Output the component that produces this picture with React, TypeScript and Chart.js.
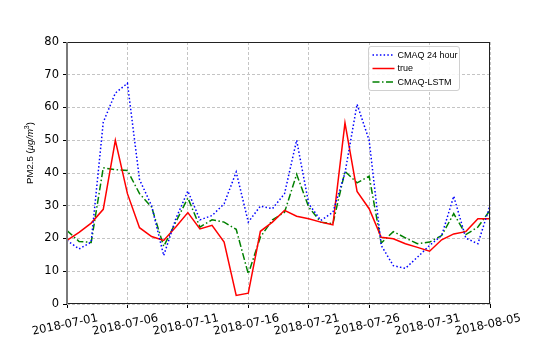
import React, { useEffect, useRef } from 'react';
import { Chart, registerables } from 'chart.js';

Chart.register(...registerables);

const dates = [
  '2018-07-01', '2018-07-02', '2018-07-03', '2018-07-04', '2018-07-05', '2018-07-06',
  '2018-07-07', '2018-07-08', '2018-07-09', '2018-07-10', '2018-07-11', '2018-07-12',
  '2018-07-13', '2018-07-14', '2018-07-15', '2018-07-16', '2018-07-17', '2018-07-18',
  '2018-07-19', '2018-07-20', '2018-07-21', '2018-07-22', '2018-07-23', '2018-07-24',
  '2018-07-25', '2018-07-26', '2018-07-27', '2018-07-28', '2018-07-29', '2018-07-30',
  '2018-07-31', '2018-08-01', '2018-08-02', '2018-08-03', '2018-08-04', '2018-08-05',
];

const xTickLabels = ['2018-07-01', '2018-07-06', '2018-07-11', '2018-07-16', '2018-07-21', '2018-07-26', '2018-07-31', '2018-08-05'];

const cmaq24 = [
  19.4, 16.8, 18.9, 55.5, 64.4, 67.4, 38.0, 30.0, 14.8, 26.0, 34.5, 25.7,
  27.0, 30.6, 40.3, 25.0, 29.9, 29.1, 33.7, 50.0, 30.6, 25.5, 28.0, 40.0,
  61.0, 50.0, 17.9, 11.7, 10.9, 14.3, 17.9, 20.9, 32.9, 20.1, 18.4, 30.1,
];

const truth = [
  19.4, 21.9, 24.7, 28.9, 50.0, 33.7, 23.3, 20.6, 19.4, 23.5, 27.9, 22.9,
  24.0, 18.9, 2.6, 3.3, 22.2, 25.0, 28.6, 26.8, 26.0, 25.0, 24.2, 55.3,
  34.4, 29.1, 20.4, 19.9, 18.4, 17.3, 16.1, 19.6, 21.4, 22.1, 26.0, 26.0,
];

const cmaqLstm = [
  22.4, 19.1, 18.8, 41.6, 41.0, 40.8, 33.7, 29.6, 17.6, 25.0, 32.4, 23.5,
  25.7, 25.0, 22.8, 9.2, 20.4, 25.7, 28.0, 39.6, 29.6, 25.0, 24.5, 40.5,
  37.0, 39.0, 18.6, 22.1, 20.2, 18.4, 18.9, 20.9, 27.6, 21.2, 23.5, 28.6,
];

const seriesNames = ['CMAQ 24 hour', 'true', 'CMAQ-LSTM'];
const yMin = 0;
const yMax = 80;
const yStep = 10;

const BLUE = '#0000ff';
const RED = '#ff0000';
const GREEN = '#008000';
const BLUE_DASH = [1.5, 2.2];
const GREEN_DASH = [7, 2.5, 1.5, 2.5];
const GRID = '#c4c4c4';

export default function App() {
  const ref = useRef<HTMLCanvasElement>(null);

  useEffect(() => {
    const canvas = ref.current;
    if (!canvas) return;

    const decorPlugin = {
      id: 'decor',
      afterDatasetsDraw(chart: any) {
        const ctx = chart.ctx as CanvasRenderingContext2D;
        const { left, right, top, bottom } = chart.chartArea;
        const xs = chart.scales.x;

        // frame (spines)
        ctx.save();
        ctx.setLineDash([]);
        ctx.strokeStyle = '#222';
        ctx.lineWidth = 1;
        ctx.beginPath();
        ctx.moveTo(left, top + 0.5);
        ctx.lineTo(right, top + 0.5);
        ctx.moveTo(right - 0.5, top);
        ctx.lineTo(right - 0.5, bottom);
        ctx.moveTo(left, bottom - 0.5);
        ctx.lineTo(right, bottom - 0.5);
        ctx.stroke();
        ctx.strokeStyle = '#7a7a7a';
        ctx.lineWidth = 2;
        ctx.beginPath();
        ctx.moveTo(left, top);
        ctx.lineTo(left, bottom);
        ctx.stroke();
        ctx.restore();

        // x tick labels (rotated, centred on the tick)
        ctx.save();
        ctx.fillStyle = '#000';
        ctx.font = '11.5px "DejaVu Sans"';
        ctx.textAlign = 'center';
        ctx.textBaseline = 'middle';
        xTickLabels.forEach((lab) => {
          const idx = dates.indexOf(lab);
          const px = xs.getPixelForValue(idx);
          ctx.save();
          ctx.translate(px - 2, bottom + 21);
          ctx.rotate((-12 * Math.PI) / 180);
          ctx.fillText(lab, 0, 0);
          ctx.restore();
        });
        ctx.restore();

        // y axis title: PM2.5 (μg/m³)
        ctx.save();
        ctx.translate(29, 153);
        ctx.rotate(-Math.PI / 2);
        ctx.fillStyle = '#000';
        ctx.textBaseline = 'alphabetic';
        ctx.textAlign = 'left';
        const parts = [
          { t: 'PM2.5 (', f: '9.6px "Liberation Sans"', dy: 0 },
          { t: 'μg/m', f: 'italic 9.6px "Liberation Sans"', dy: 0 },
          { t: '3', f: '7px "Liberation Sans"', dy: -4 },
          { t: ')', f: '9.6px "Liberation Sans"', dy: 0 },
        ];
        let total = 0;
        parts.forEach((p) => {
          ctx.font = p.f;
          total += ctx.measureText(p.t).width;
        });
        let cx = -total / 2;
        parts.forEach((p) => {
          ctx.font = p.f;
          ctx.fillText(p.t, cx, 3.5 + p.dy);
          cx += ctx.measureText(p.t).width;
        });
        ctx.restore();

        // legend
        ctx.save();
        const bx = 368.5, by = 46.5, bw = 91, bh = 44;
        ctx.fillStyle = 'rgba(255,255,255,0.85)';
        ctx.strokeStyle = '#d0d0d0';
        ctx.lineWidth = 1;
        ctx.beginPath();
        (ctx as any).roundRect(bx, by, bw, bh, 2.5);
        ctx.fill();
        ctx.stroke();
        const rows = [
          { y: 55, color: BLUE, dash: BLUE_DASH },
          { y: 68.5, color: RED, dash: [] as number[] },
          { y: 82, color: GREEN, dash: GREEN_DASH },
        ];
        rows.forEach((r, i) => {
          ctx.strokeStyle = r.color;
          ctx.lineWidth = 1.5;
          ctx.setLineDash(r.dash);
          ctx.beginPath();
          ctx.moveTo(372.5, r.y);
          ctx.lineTo(394.5, r.y);
          ctx.stroke();
          ctx.setLineDash([]);
          ctx.fillStyle = '#000';
          ctx.font = '9px "Liberation Sans"';
          ctx.textAlign = 'left';
          ctx.textBaseline = 'middle';
          ctx.fillText(seriesNames[i], 397.5, r.y + 0.5);
        });
        ctx.restore();
      },
    };

    const chart = new Chart(canvas, {
      type: 'line',
      data: {
        labels: dates,
        datasets: [
          {
            label: seriesNames[0],
            data: cmaq24,
            borderColor: BLUE,
            borderWidth: 1.5,
            borderDash: BLUE_DASH,
            pointRadius: 0,
            fill: false,
            tension: 0,
          },
          {
            label: seriesNames[1],
            data: truth,
            borderColor: RED,
            borderWidth: 1.5,
            pointRadius: 0,
            fill: false,
            tension: 0,
          },
          {
            label: seriesNames[2],
            data: cmaqLstm,
            borderColor: GREEN,
            borderWidth: 1.5,
            borderDash: GREEN_DASH,
            pointRadius: 0,
            fill: false,
            tension: 0,
          },
        ],
      },
      options: {
        responsive: false,
        maintainAspectRatio: false,
        devicePixelRatio: 1,
        animation: false,
        layout: { padding: { left: 0, right: 55, top: 42, bottom: 0 } },
        plugins: {
          legend: { display: false },
          tooltip: { enabled: false },
        },
        scales: {
          x: {
            type: 'category',
            offset: false,
            border: { display: false, dash: [3, 2] },
            grid: {
              color: (c: any) => (c.index % 5 === 0 ? GRID : 'rgba(0,0,0,0)'),
              tickColor: (c: any) => (c.index % 5 === 0 ? '#000' : 'rgba(0,0,0,0)'),
              tickLength: 4,
              lineWidth: 1,
              drawTicks: true,
            },
            ticks: { display: false, autoSkip: false, maxRotation: 0, minRotation: 0 },
            afterFit: (s: any) => {
              s.height = 43;
            },
          },
          y: {
            min: yMin,
            max: yMax,
            border: { display: false, dash: [3, 2] },
            grid: {
              color: GRID,
              tickColor: '#000',
              tickLength: 4,
              lineWidth: 1,
            },
            ticks: {
              stepSize: yStep,
              color: '#000',
              padding: 4,
              font: { family: 'DejaVu Sans', size: 11.5 },
            },
            afterFit: (s: any) => {
              s.width = 67;
            },
          },
        },
      },
      plugins: [decorPlugin],
    });

    return () => chart.destroy();
  }, []);

  return (
    <div style={{ position: 'fixed', left: 0, top: 0, width: 545, height: 347, background: '#fff' }}>
      <canvas ref={ref} width={545} height={347} style={{ width: 545, height: 347, display: 'block' }} />
    </div>
  );
}
